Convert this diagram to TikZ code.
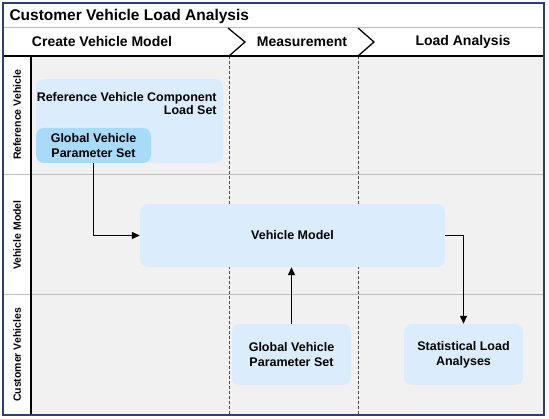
\documentclass[tikz,border=0pt]{standalone}
\usepackage{fontspec}
\setmainfont{Liberation Sans}
\usepackage{xcolor}
\usetikzlibrary{shapes,arrows.meta,positioning}

\definecolor{laneGray}{HTML}{F1F1F1}
\definecolor{boxBlue}{HTML}{DBEDFC}
\definecolor{innerBlue}{HTML}{A8DBFA}
\definecolor{frameBlue}{HTML}{2B3F73}
\definecolor{rowGray}{HTML}{BDBDBD}

\begin{document}
\begin{tikzpicture}[x=1pt,y=-1pt,
  task/.style={fill=boxBlue, rounded corners=8pt, font=\fontsize{12.5}{15}\selectfont\bfseries, align=center},
  lane/.style={font=\fontsize{10.5}{12}\selectfont\bfseries, rotate=90},
  phase/.style={font=\fontsize{14}{16}\selectfont\bfseries},
  flow/.style={-{Triangle[length=8pt,width=7pt]}, line width=1.3pt}]
\useasboundingbox (0,0) rectangle (549,419);

% Background and lanes
\fill[white] (0,0) rectangle (549,419);
\fill[laneGray] (31,56) rectangle (544,415);
\draw[rowGray, line width=1pt] (3,28) -- (544,28);
\draw[rowGray, line width=1pt] (3,175) -- (544,175);
\draw[rowGray, line width=1pt] (3,295) -- (544,295);
\draw[dash pattern=on 3pt off 2pt, gray!60!black, line width=0.8pt] (229,56) -- (229,415);
\draw[dash pattern=on 3pt off 2pt, gray!60!black, line width=0.8pt] (358,56) -- (358,415);
\draw[line width=1.3pt] (3,56) -- (544,56);
\draw[line width=1.3pt] (31,56) -- (31,415);
\draw[line width=1.3pt] (228,28) -- (245,42) -- (229,56);
\draw[line width=1.3pt] (358,28) -- (374,42) -- (358,56);
\draw[frameBlue, line width=1.5pt] (3,3) rectangle (544,415);

% Title, phases and lane labels
\node[anchor=west, font=\fontsize{15.5}{18}\selectfont\bfseries] (title) at (6,16) {Customer Vehicle Load Analysis};
\node[phase] (create) at (102,42) {Create Vehicle Model};
\node[phase] (measure) at (302,42) {Measurement};
\node[phase] (analysis) at (463,42) {Load Analysis};
\node[lane] (laneref) at (17,115) {Reference Vehicle};
\node[lane] (lanemodel) at (17,235) {Vehicle Model};
\node[lane] (lanecust) at (17,355) {Customer Vehicles};

% Define nodes
\node[task, minimum width=187pt, minimum height=84pt,
  label={[anchor=north east, align=right, xshift=-3pt, yshift=-10pt, font=\fontsize{12.5}{13}\selectfont\bfseries]north east:{Reference Vehicle Component\\Load Set}}] (refset) at (129.5,121) {};
\node[task, fill=innerBlue, minimum width=115pt, minimum height=35pt] (globalref) at (93.5,145.5) {Global Vehicle\\Parameter Set};
\node[task, minimum width=305pt, minimum height=63pt] (vmodel) at (292.5,235.5) {Vehicle Model};
\node[task, minimum width=119pt, minimum height=61pt] (globalcust) at (291.5,354.5) {Global Vehicle\\Parameter Set};
\node[task, minimum width=119pt, minimum height=61pt] (stats) at (463.5,354.5) {Statistical Load\\Analyses};

% Draw arrows
\draw[flow] (globalref.south) |- (vmodel.west);
\draw[flow] (globalcust.north) -- (globalcust.north |- vmodel.south);
\draw[flow] (vmodel.east) -| (stats.north);
\end{tikzpicture}
\end{document}
